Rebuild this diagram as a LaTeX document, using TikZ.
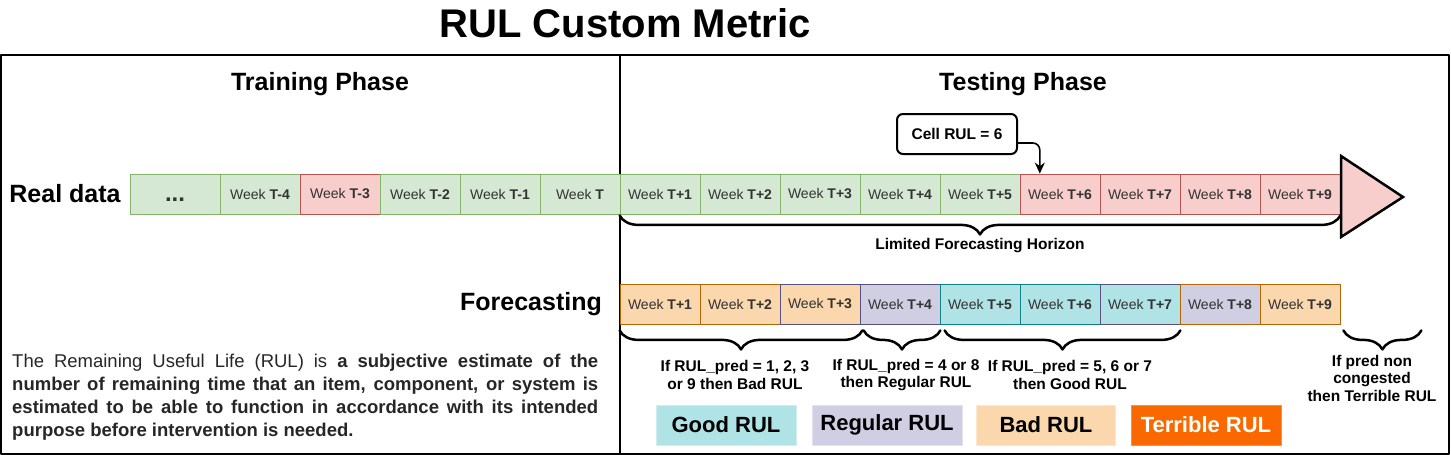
\documentclass[tikz,border=0pt]{standalone}
\usepackage{fontspec}
\setmainfont{Liberation Sans}
\usetikzlibrary{decorations.pathreplacing,calc,arrows.meta}
\definecolor{grfill}{HTML}{D5E8D4}\definecolor{grline}{HTML}{82B366}
\definecolor{rdfill}{HTML}{F8CECC}\definecolor{rdline}{HTML}{B85450}
\definecolor{orfill}{HTML}{FAD7AC}\definecolor{orline}{HTML}{B46504}
\definecolor{pufill}{HTML}{D0CEE2}\definecolor{puline}{HTML}{56517E}
\definecolor{cyfill}{HTML}{B0E3E6}\definecolor{cyline}{HTML}{0E8088}
\definecolor{tefill}{HTML}{FA6800}\definecolor{teline}{HTML}{FF8F40}
\newcommand{\setsz}[2]{\fontsize{#1}{#2}\selectfont}
\begin{document}
\begin{tikzpicture}[x=1pt,y=-1pt,>={Stealth[length=11pt,width=10pt]},line join=round,line cap=round,
	wk/.style={draw,minimum width=80pt,minimum height=40pt,inner sep=0pt,line width=0.8pt,
		text=black!80,font=\setsz{14}{16}},
	gr/.style={fill=grfill,draw=grline},rd/.style={fill=rdfill,draw=rdline},
	or/.style={fill=orfill,draw=orline},pu/.style={fill=pufill,draw=puline},
	cy/.style={fill=cyfill,draw=cyline},
	orP/.style={fill=orfill,draw=puline},cyP/.style={fill=cyfill,draw=puline},
	puO/.style={fill=pufill,draw=orline},
	brc/.style={decorate,decoration={brace,mirror,amplitude=19pt},line width=2.5pt},
	lbl/.style={align=center,inner sep=0pt,font=\setsz{15.5}{17.5}\bfseries},
	head/.style={font=\setsz{25}{30}\bfseries},
	leg/.style={minimum height=40pt,inner sep=0pt,line width=0.8pt,font=\setsz{22}{26}\bfseries}]
	\useasboundingbox (0,0) rectangle (1451,455);
	\node[font=\setsz{40}{46}\bfseries] (title) at (625,23) {RUL Custom Metric};
	\draw[line width=2pt] (1,55) rectangle (1449,454);
	\draw[line width=1.5pt] (620,55) -- (620,454);
	\node[head] (train) at (320,84) {Training Phase};
	\node[head] (test) at (1023,84) {Testing Phase};
	\node[head] (real) at (65,194) {Real data};
	\node[head] (fcst) at (531,304) {Forecasting};
	% real data row
	\node[wk,gr,minimum width=90pt,text height=14pt,text depth=0pt,font=\setsz{24}{28}\bfseries] (dots) at (175,194) {...};
	\foreach \n/\lab/\st [count=\i] in {m4/T-4/gr,m3/T-3/rd,m2/T-2/gr,m1/T-1/gr,0/T/gr,
		1/T+1/gr,2/T+2/gr,3/T+3/gr,4/T+4/gr,5/T+5/gr,6/T+6/rd,7/T+7/rd,8/T+8/rd,9/T+9/rd}
		\node[wk,\st] (r\n) at ({180+80*\i},194) {Week \textbf{\lab}};
	\draw[line width=2.5pt,fill=rdfill,line join=miter] (1341,156) -- (1403,197) -- (1341,237) -- cycle;
	\node[draw,rounded corners=6pt,line width=2pt,minimum width=120pt,minimum height=40pt,
		font=\setsz{15.5}{18}\bfseries] (cell) at (957,134) {Cell RUL = 6};
	\coordinate (c6) at ($(r6.north west)!.25!(r6.north east)$);
	\draw[->,line width=1.6pt,rounded corners=7pt] ([yshift=-9pt]cell.east) -| (c6);
	\draw[brc] ([yshift=-1pt]r1.south west) -- ([yshift=-1pt]r9.south east);
	\node[lbl] (lfh) at (980,246) {Limited Forecasting Horizon};
	% forecasting row
	\foreach \lab/\st [count=\i] in {T+1/or,T+2/or,T+3/orP,T+4/pu,T+5/cy,T+6/cy,T+7/cyP,T+8/puO,T+9/or}
		\node[wk,\st] (f\i) at ({580+80*\i},304) {Week \textbf{\lab}};
	\draw[brc] ([yshift=-6pt]f1.south west) -- ([yshift=-6pt,xshift=2pt]f3.south east);
	\draw[brc] ([yshift=-6pt,xshift=4pt]f4.south west) -- ([yshift=-6pt]f4.south east);
	\draw[brc] ([yshift=-6pt,xshift=5pt]f5.south west) -- ([yshift=-6pt]f7.south east);
	\draw[brc] ([yshift=-6pt,xshift=3pt]f9.south east) -- ([yshift=-6pt,xshift=81pt]f9.south east);
	\node[lbl] (bad) at (735,375) {If RUL\_pred = 1, 2, 3\\or 9 then Bad RUL};
	\node[lbl] (reg) at (906,375) {If RUL\_pred = 4 or 8\\then Regular RUL};
	\node[lbl] (good) at (1070,375) {If RUL\_pred = 5, 6 or 7\\then Good RUL};
	\node[lbl] (terr) at (1372,378) {If pred non\\congested\\then Terrible RUL};
	% legend
	\node[leg,fill=cyfill,draw=cyfill!60!white,minimum width=140pt] (lgood) at (726,425) {Good RUL};
	\node[leg,fill=pufill,draw=pufill!60!white,minimum width=150pt] (lreg) at (887,425) {Regular RUL};
	\node[leg,fill=orfill,draw=orfill!60!white,minimum width=139pt] (lbad) at (1046,425) {Bad RUL};
	\node[leg,fill=tefill,draw=teline,text=white,minimum width=150pt] (lterr) at (1206,425) {Terrible RUL};
	\node[anchor=north west,text width=586pt,align=justify,inner sep=0pt,text=black!85,
		font=\setsz{18.5}{23}] (def) at (12,354)
		{\tolerance=9999 \hyphenpenalty=10000 The Remaining Useful Life (RUL) is \textbf{a subjective estimate of the\linebreak
		number of remaining time that an item, component, or system is\linebreak
		estimated to be able to function in accordance with its intended\linebreak
		purpose before intervention is needed.}};
\end{tikzpicture}
\end{document}
